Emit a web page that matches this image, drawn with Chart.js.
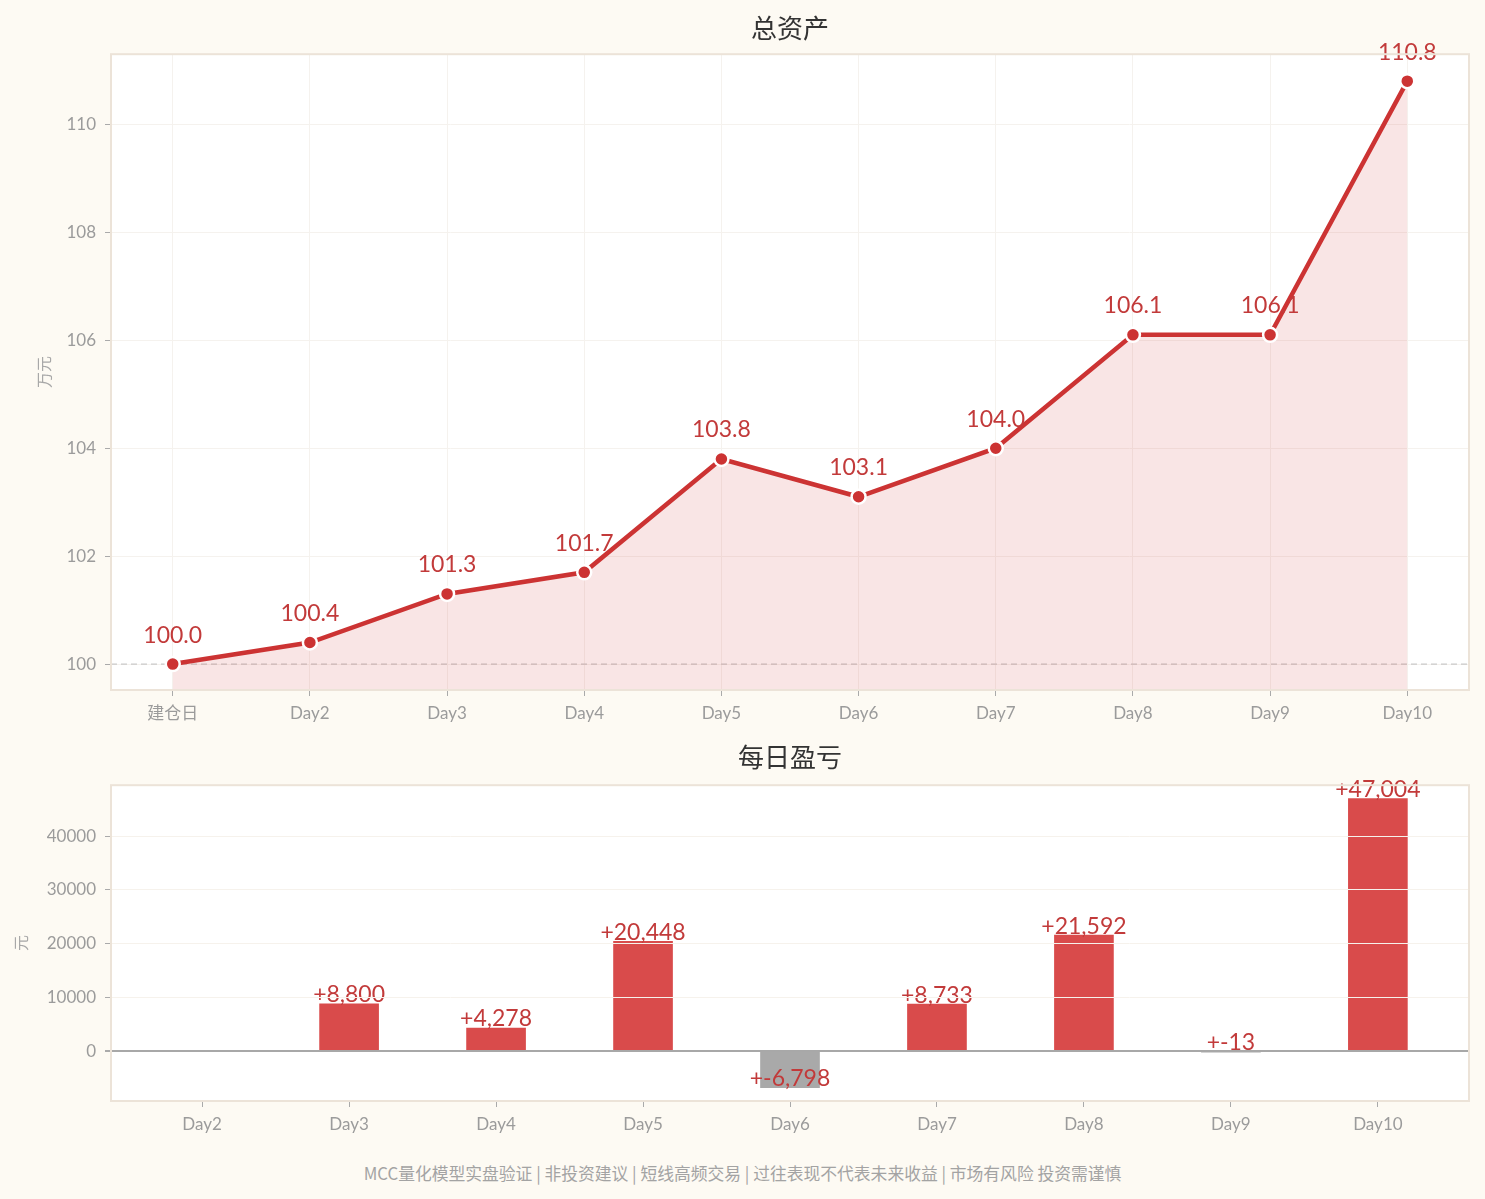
<!DOCTYPE html>
<html>
<head>
<meta charset="utf-8">
<script src="https://cdn.jsdelivr.net/npm/chart.js@4.4.1/dist/chart.umd.min.js"></script>
<style>
  html, body { margin: 0; padding: 0; background: #fdfaf3; }
  body { width: 1485px; height: 1199px; position: relative; overflow: hidden; }
  .box { position: absolute; left: 0; width: 1485px; }
  #top-box { top: 0; height: 740px; }
  #bottom-box { top: 735px; height: 415px; }
  #footer {
    position: absolute; left: 0; width: 1485px; top: 1161px; text-align: center;
    font: 16.8px "Noto Sans CJK SC", "Noto Sans", sans-serif; color: #a3a3a3;
  }
</style>
</head>
<body>
<div class="box" id="top-box"><canvas id="assetChart"></canvas></div>
<div class="box" id="bottom-box"><canvas id="pnlChart"></canvas></div>
<div id="footer">MCC量化模型实盘验证 | 非投资建议 | 短线高频交易 | 过往表现不代表未来收益 | 市场有风险 投资需谨慎</div>
<script>
// data
const assetLabels = ["建仓日", "Day2", "Day3", "Day4", "Day5", "Day6", "Day7", "Day8", "Day9", "Day10"];
const assetValues = [100.0, 100.4, 101.3, 101.7, 103.8, 103.1, 104.0, 106.1, 106.1, 110.8];
const assetTicks = [100, 102, 104, 106, 108, 110];

const pnlLabels = ["Day2", "Day3", "Day4", "Day5", "Day6", "Day7", "Day8", "Day9", "Day10"];
const pnlValues = [null, 8800, 4278, 20448, -6798, 8733, 21592, -13, 47004];
const pnlTicks = [0, 10000, 20000, 30000, 40000];

const FONT = '"Lato", "Noto Sans CJK SC", sans-serif';
const RED = "#cc3333";
const LABEL_RED = "#c23a3a";
const TICK_GREY = "#9b9b9b";

Chart.defaults.font.family = FONT;
Chart.defaults.animation = false;

// white plot area + thin beige frame
const plotFrame = {
    id: "plotFrame",
    beforeDraw(chart) {
        const a = chart.chartArea;
        const ctx = chart.ctx;
        ctx.save();
        ctx.fillStyle = "#ffffff";
        ctx.fillRect(a.left, a.top, a.right - a.left, a.bottom - a.top);
        ctx.restore();
    },
    afterDraw(chart) {
        const a = chart.chartArea;
        const ctx = chart.ctx;
        ctx.save();
        ctx.strokeStyle = "#ece3d8";
        ctx.lineWidth = 2;
        ctx.strokeRect(a.left, a.top, a.right - a.left, a.bottom - a.top);
        ctx.restore();
    }
};

// dashed baseline at 100
const baseline = {
    id: "baseline",
    beforeDatasetsDraw(chart) {
        const y = chart.scales.y.getPixelForValue(100);
        const a = chart.chartArea;
        const ctx = chart.ctx;
        ctx.save();
        ctx.strokeStyle = "#c9c9c9";
        ctx.lineWidth = 1.2;
        ctx.setLineDash([6, 4]);
        ctx.beginPath();
        ctx.moveTo(a.left, y);
        ctx.lineTo(a.right, y);
        ctx.stroke();
        ctx.restore();
    }
};

// value labels above points / bar ends
function valueLabels(format) {
    return {
        id: "valueLabels",
        afterDatasetsDraw(chart) {
            const ctx = chart.ctx;
            const meta = chart.getDatasetMeta(0);
            const data = chart.data.datasets[0].data;
            ctx.save();
            ctx.fillStyle = LABEL_RED;
            ctx.font = "23px " + FONT;
            ctx.textAlign = "center";
            ctx.textBaseline = "middle";
            meta.data.forEach((el, i) => {
                const v = data[i];
                const val = (v && typeof v === "object") ? v.y : v;
                if (val === null || val === undefined) return;
                ctx.fillText(format(val), el.x, el.y + chart.options.labelShift);
            });
            ctx.restore();
        }
    };
}

new Chart(document.getElementById("assetChart"), {
    type: "line",
    data: {
        datasets: [{
            data: assetValues.map((v, i) => ({ x: i, y: v })),
            borderColor: RED,
            borderWidth: 4.5,
            backgroundColor: "rgba(211, 51, 51, 0.13)",
            fill: "start",
            tension: 0,
            pointRadius: 7,
            pointBackgroundColor: RED,
            pointBorderColor: "#ffffff",
            pointBorderWidth: 2.5
        }]
    },
    options: {
        responsive: true,
        maintainAspectRatio: false,
        labelShift: -29,
        layout: { padding: { left: 0, right: 16, top: 0, bottom: 0 } },
        plugins: {
            legend: { display: false },
            tooltip: { enabled: false },
            title: {
                display: true,
                fullSize: false,
                text: "总资产",
                color: "#333333",
                font: { size: 26, family: FONT, weight: "normal" },
                padding: { top: 14, bottom: 9 }
            }
        },
        scales: {
            x: {
                type: "linear",
                min: -0.45,
                max: 9.45,
                afterFit(scale) { scale.height = 50; },
                afterBuildTicks(scale) { scale.ticks = assetLabels.map((l, i) => ({ value: i })); },
                ticks: {
                    callback: (v) => assetLabels[v],
                    color: TICK_GREY,
                    font: { size: 17 },
                    padding: 7
                },
                grid: { color: "#f5f2ee", tickColor: "#aaaaaa", tickLength: 6 },
                border: { display: false }
            },
            y: {
                min: 99.52,
                max: 111.3,
                afterFit(scale) { scale.width = 111; },
                afterBuildTicks(scale) { scale.ticks = assetTicks.map(v => ({ value: v })); },
                ticks: {
                    color: TICK_GREY,
                    font: { size: 17 },
                    padding: 9
                },
                grid: { color: "#f5f2ee", tickColor: "#aaaaaa", tickLength: 6 },
                border: { display: false },
                title: {
                    display: true,
                    text: "万元",
                    color: "#a8a8a8",
                    font: { size: 16 },
                    padding: { top: 35, bottom: 0 }
                }
            }
        }
    },
    plugins: [plotFrame, baseline, valueLabels(v => v.toFixed(1))]
});

new Chart(document.getElementById("pnlChart"), {
    type: "bar",
    data: {
        datasets: [{
            data: pnlValues.map((v, i) => ({ x: i, y: v })),
            backgroundColor: pnlValues.map(v => (v !== null && v < 0) ? "#a9a9a9" : "#d94b4b"),
            barThickness: 59
        }]
    },
    options: {
        responsive: true,
        maintainAspectRatio: false,
        labelShift: -9,
        layout: { padding: { left: 0, right: 16, top: 0, bottom: 0 } },
        plugins: {
            legend: { display: false },
            tooltip: { enabled: false },
            title: {
                display: true,
                fullSize: false,
                text: "每日盈亏",
                color: "#333333",
                font: { size: 26, family: FONT, weight: "normal" },
                padding: { top: 8, bottom: 11 }
            }
        },
        scales: {
            x: {
                type: "linear",
                min: -0.62,
                max: 8.62,
                offset: false,
                afterFit(scale) { scale.height = 49; },
                afterBuildTicks(scale) { scale.ticks = pnlLabels.map((l, i) => ({ value: i })); },
                ticks: {
                    callback: (v) => pnlLabels[v],
                    color: TICK_GREY,
                    font: { size: 17 },
                    padding: 7
                },
                grid: { offset: false, drawOnChartArea: false, tickColor: "#aaaaaa", tickLength: 6 },
                border: { display: false }
            },
            y: {
                min: -9300,
                max: 49500,
                afterFit(scale) { scale.width = 111; },
                afterBuildTicks(scale) { scale.ticks = pnlTicks.map(v => ({ value: v })); },
                ticks: {
                    callback: (v) => String(v),
                    color: TICK_GREY,
                    font: { size: 17 },
                    padding: 9
                },
                grid: {
                    color: (c) => (c.tick && c.tick.value === 0) ? "#a8a8a8" : "#f6f2ec",
                    lineWidth: (c) => (c.tick && c.tick.value === 0) ? 2 : 1,
                    tickColor: "#aaaaaa",
                    tickLength: 6,
                    z: 1
                },
                border: { display: false },
                title: {
                    display: true,
                    text: "元",
                    color: "#a8a8a8",
                    font: { size: 16 },
                    padding: { top: 12, bottom: 0 }
                }
            }
        }
    },
    plugins: [plotFrame, valueLabels(v => "+" + v.toLocaleString("en-US"))]
});
</script>
</body>
</html>
